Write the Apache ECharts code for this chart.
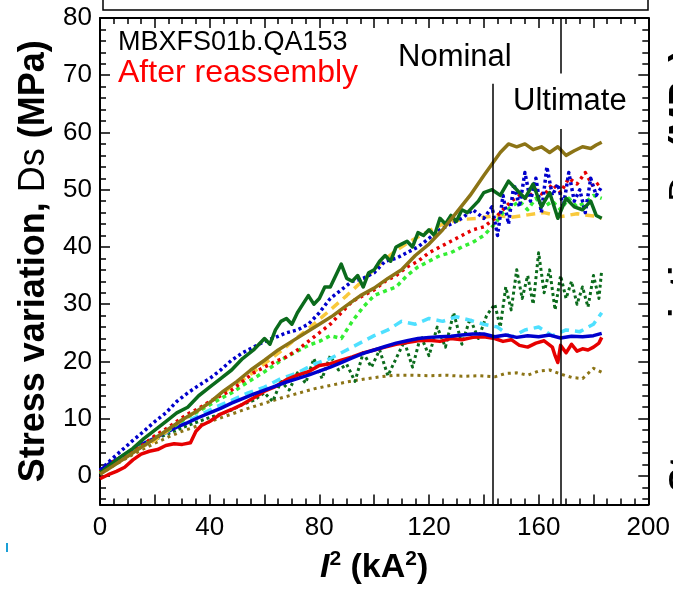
<!DOCTYPE html>
<html>
<head>
<meta charset="utf-8">
<script src="https://cdn.jsdelivr.net/npm/echarts@6/dist/echarts.min.js"></script>
<style>
  html, body { margin: 0; padding: 0; background: #fff; }
  #chart { width: 673px; height: 590px; }
</style>
</head>
<body>
<div id="chart"></div>
<script>
// tick positions
const xLabels = [0, 40, 80, 120, 160, 200];
const xMajor = [0, 20, 40, 60, 80, 100, 120, 140, 160, 180, 200];
const xMinor = [5, 10, 15, 25, 30, 35, 45, 50, 55, 65, 70, 75, 85, 90, 95, 105, 110, 115,
  125, 130, 135, 145, 150, 155, 165, 170, 175, 185, 190, 195];
const yLabels = [0, 10, 20, 30, 40, 50, 60, 70, 80];
const yMinor = [-4, -2, 2, 4, 6, 8, 12, 14, 16, 18, 22, 24, 26, 28, 32, 34, 36, 38, 42, 44, 46, 48,
  52, 54, 56, 58, 62, 64, 66, 68, 72, 74, 76, 78];

// reference currents (kA^2)
const nominalI2 = 143.4;
const ultimateI2 = 168;

// measured curves [I^2, stress]
const oliveSolid = [[0,0.3],[5,1.8],[10,3.4],[15,5],[20,6.5],[25,8.2],[30,9.8],[35,11.2],[40,12.8],[45,14.8],
  [50,16.5],[55,18.5],[60,20.2],[65,22],[70,23.5],[75,25],[80,26.5],[85,28],[90,29.8],[95,31.5],[100,32.8],
  [105,34.5],[110,36],[115,38.5],[120,40.5],[125,43],[130,46],[135,49],[140,52.5],[143,54.5],[146,56.5],
  [149,58],[152,57.5],[155,58],[158,57],[161,57.5],[164,56.5],[167,57.5],[170,56],[173,56.8],[176,57.5],
  [179,57.2],[181,57.8],[183,58.3]];
const greenSolid = [[0,0.5],[4,2],[8,3.5],[12,4.8],[16,6.5],[20,8],[24,9.5],[28,11],[32,12],[36,14],[40,15.5],
  [44,17],[48,18.5],[52,20.5],[56,22],[60,24],[62,23],[64,25.5],[66,27],[68,27.5],[70,26.5],[72,28.5],[74,30],
  [76,31.5],[78,30],[80,31],[82,33],[84,33],[86,35],[88,37],[90,34.5],[92,34],[94,35],[96,33],[98,35.5],
  [100,36],[102,37.5],[104,38.5],[106,37.5],[108,40],[110,40.5],[112,41],[114,40],[116,42.5],[118,42],
  [120,43],[122,42],[124,45],[126,44],[128,45.5],[130,44.5],[132,46.5],[134,46],[136,47],[138,48],
  [140,49.5],[143,50],[146,49],[149,51.5],[152,50],[155,48.5],[158,51],[161,47],[164,49.5],[167,45],
  [170,48.5],[173,47],[176,46.5],[179,48],[181,45.5],[183,45]];
const blueDotted = [[0,1],[4,2.8],[8,4.5],[12,6.2],[16,7.8],[20,9.5],[24,11],[28,13],[32,14.5],[36,15.8],
  [40,17],[44,18.5],[48,20.2],[52,21.5],[56,22.5],[60,23.5],[64,24.2],[68,25],[72,25.5],[76,26.5],
  [80,28.5],[84,31],[88,32.5],[92,34],[96,34.5],[100,35.5],[104,37.5],[108,38],[112,39],[116,40],
  [120,41.5],[124,43],[128,44],[132,45],[136,46.5],[140,45],[143,47],[145,42],[147,49],[149,44],
  [151,51],[153,47],[155,53],[157,48],[159,52],[161,46],[163,54],[165,49],[167,51],[169,47],[171,53],
  [173,48],[175,50],[177,46],[179,52],[181,49],[183,50.5]];
const redDotted = [[0,0.8],[4,2.3],[8,3.3],[12,4.3],[16,5.5],[20,7],[24,8.2],[28,9.5],[32,10.8],[36,11.8],
  [40,13],[44,14],[48,15],[52,16.5],[56,18],[60,19],[64,20],[68,20.8],[72,22],[76,23.5],[80,25],
  [84,26.5],[88,28.5],[92,30.5],[96,31.5],[100,32.5],[104,34],[108,35],[112,36.5],[116,37.5],[120,39],
  [124,40],[128,41],[132,42],[136,43],[140,43.5],[144,45],[147,46.5],[150,48],[153,49],[156,48.5],
  [159,50],[162,49],[165,51],[168,49.5],[171,52],[174,51],[177,53],[180,50.5],[183,51.5]];
const limeDotted = [[0,0.5],[4,1.8],[8,2.9],[12,4.2],[16,5.5],[20,6.8],[24,7.7],[28,9],[32,10.3],[36,11.3],
  [40,12.4],[44,13.5],[48,14.5],[52,15.8],[56,17],[60,18.2],[64,19.5],[68,20.8],[72,21.8],[76,22.8],
  [80,23.5],[84,24.5],[88,24],[92,27],[96,29.5],[100,31.5],[104,32.3],[108,33],[112,35],[116,36.5],
  [120,37.5],[124,38.5],[128,39],[132,40],[136,40.8],[140,42],[144,44],[147,46],[150,47],[153,48],
  [156,46.5],[159,48.5],[162,47],[165,48],[168,46.5],[171,48.5],[174,47],[177,47.8],[180,49],[183,48.5]];
const yellowDashed = [[0,0.5],[6,2.5],[12,4.4],[18,5.6],[24,7.6],[30,9.8],[36,11.5],[42,13.5],[48,15.6],
  [54,17.4],[60,19.6],[66,21.8],[72,24.2],[78,26.5],[84,29],[90,31.5],[96,34.2],[102,37],[108,39.4],
  [114,41.2],[120,42.8],[126,44.2],[132,44.8],[138,45],[144,45.5],[150,45.2],[156,45.6],[162,46],
  [168,45.3],[174,45.8],[180,45.4],[183,45]];
const cyanDashed = [[0,0.5],[6,2.5],[12,4.2],[18,5.8],[24,7.5],[30,9.2],[36,10.5],[42,12],[48,13.2],
  [54,14.5],[60,15.5],[66,17],[72,18],[78,19.5],[84,20.5],[90,22],[96,23.5],[100,24.5],[105,25.5],
  [110,27],[115,26.5],[120,27.5],[125,27],[130,27.8],[135,27.2],[140,26.5],[145,26],[150,24.2],
  [155,25.5],[160,26],[165,24.5],[170,25.5],[175,25.2],[180,26.5],[183,28.5]];
const greenDotted = [[0,0.5],[4,1.8],[8,3],[12,4.2],[16,5.3],[20,6.3],[24,7.2],[28,8],[32,8.8],[36,9.5],
  [40,10.2],[44,10.8],[48,11.5],[52,12.5],[56,13.2],[60,14.5],[63,13],[66,16.5],[69,15],[72,18],[75,16.2],
  [78,20.5],[81,17],[84,21],[87,18.5],[90,19.5],[93,16.5],[96,21.5],[99,19],[102,22],[105,17.5],
  [108,20.5],[111,23.5],[114,19],[117,24.5],[120,21],[123,26],[126,22.5],[129,28.5],[132,23],[135,27.5],
  [138,24],[141,28],[144,30],[146,26],[148,33],[150,29],[152,36],[154,31],[156,35],[158,30],[160,39],
  [162,32],[164,36],[166,29],[168,35],[170,31],[172,34],[174,30],[176,33],[178,29.5],[180,35],[182,31],[183,36]];
const redSolid = [[0,-0.5],[3,0.2],[6,0.8],[9,1.5],[12,2.8],[15,3.8],[18,4.3],[21,4.6],[24,5.3],[27,5.6],
  [30,5.5],[33,5.8],[35,7.8],[37,8.8],[40,9.5],[44,10.8],[48,11.6],[52,12.5],[56,13.6],[60,14.8],[64,15.6],
  [68,16.8],[72,17.6],[76,18.2],[80,19.3],[84,19.6],[88,20.2],[92,20.8],[96,21.5],[100,22],[104,22.5],
  [108,23],[112,23.3],[116,23.6],[120,23.7],[124,23.5],[128,24],[132,23.8],[136,24.2],[140,24.3],[144,24],
  [147,23.5],[150,23.8],[153,22.8],[156,22.5],[159,23.2],[162,23.6],[165,22.5],[166,21],[167,19.8],
  [168,22.8],[170,21.5],[172,23],[174,21.8],[176,22.2],[178,22],[180,22.5],[182,23.2],[183,24.2]];
const blueSolid = [[0,1],[4,2.3],[8,3.4],[12,4.6],[16,5.7],[20,6.6],[24,7.6],[28,8.5],[32,9.3],[36,10.2],
  [40,11],[44,11.8],[48,12.7],[52,13.5],[56,14.3],[60,15],[64,15.7],[68,16.4],[72,17],[76,17.6],[80,18.3],
  [84,19],[88,19.8],[92,20.6],[96,21.4],[100,22],[104,22.6],[108,23.2],[112,23.6],[116,24],[120,24.2],
  [124,24.3],[128,24.4],[132,24.6],[136,24.8],[140,24.8],[144,24.3],[148,24.6],[152,24.2],[156,24.5],
  [160,24.3],[164,24.6],[168,24.1],[172,24.4],[176,24.3],[180,24.5],[183,24.9]];
const oliveDotted = [[0,0.3],[5,1.8],[10,3.2],[15,4.5],[20,5.7],[25,6.8],[30,7.8],[36,8.8],[42,9.8],[48,10.8],
  [54,11.8],[60,12.7],[66,13.6],[72,14.4],[78,15.2],[84,15.8],[90,16.4],[96,16.9],[102,17.3],[108,17.6],
  [114,17.6],[120,17.5],[126,17.6],[132,17.4],[138,17.5],[144,17.3],[148,17.9],[152,18],[156,17.6],
  [160,18.3],[164,18.5],[168,17.8],[172,17.2],[176,17],[180,18.8],[183,18.1]];

const FONT = "'Liberation Sans', Arial, sans-serif";
const OLIVE = "#8c7416";
const DKGREEN = "#0b6b1c";
const BLUE = "#0000cc";
const RED = "#e60000";

function xAxisDef(pos, ticks, len, line, labels, extra) {
  return Object.assign({
    type: "value", position: pos, min: 0, max: 200,
    axisLine: { show: line, onZero: false, lineStyle: { color: "#000", width: 2 } },
    axisTick: { show: true, inside: true, length: len, customValues: ticks, lineStyle: { color: "#000", width: 1.5 } },
    axisLabel: labels ? { customValues: labels, color: "#000", fontFamily: FONT, fontSize: 26, margin: 10 } : { show: false },
    splitLine: { show: false }
  }, extra || {});
}
function yAxisDef(pos, ticks, len, line, labels, extra) {
  return Object.assign({
    type: "value", position: pos, min: -5, max: 80,
    axisLine: { show: line, onZero: false, lineStyle: { color: "#000", width: 2 } },
    axisTick: { show: true, inside: true, length: len, customValues: ticks, lineStyle: { color: "#000", width: 1.5 } },
    axisLabel: labels ? { customValues: labels, color: "#000", fontFamily: FONT, fontSize: 26, margin: 8 } : { show: false },
    splitLine: { show: false }
  }, extra || {});
}

function line(data, color, type, width) {
  return {
    type: "line", data: data, showSymbol: false, symbol: "none", silent: true, animation: false,
    lineStyle: { color: color, width: width || 3, type: type, cap: "butt", join: "round" }
  };
}

const chart = echarts.init(document.getElementById("chart"), null, { renderer: "canvas" });

const series = [
  line(oliveDotted, OLIVE, [3, 4], 3),
  line(greenDotted, DKGREEN, [3, 3], 3),
  line(cyanDashed, "#4fe0ff", [9, 6], 3.5),
  line(redSolid, RED, "solid", 3.5),
  line(blueSolid, BLUE, "solid", 3.5),
  line(yellowDashed, "#f9c93c", [9, 6], 3.5),
  line(limeDotted, "#33ee33", [4, 4], 3.5),
  line(redDotted, RED, [3, 4], 3.5),
  line(blueDotted, BLUE, [3, 3], 3.5),
  line(greenSolid, DKGREEN, "solid", 3.5),
  line(oliveSolid, OLIVE, "solid", 3.5)
];

series[series.length - 1].markLine = {
  silent: true, symbol: ["none", "none"], animation: false,
  label: { show: false },
  lineStyle: { color: "#000", width: 1.5, type: "solid" },
  data: [
    [{ coord: [nominalI2, -5] }, { coord: [nominalI2, 68.5] }],
    [{ coord: [ultimateI2, 80] }, { coord: [ultimateI2, 70.3] }],
    [{ coord: [ultimateI2, 60.6] }, { coord: [ultimateI2, -5] }]
  ]
};

chart.setOption({
  animation: false,
  backgroundColor: "#fff",
  grid: { left: 100, right: 19, top: 18, bottom: 84 },
  xAxis: [
    xAxisDef("bottom", xMajor, 10, true, xLabels, {
      name: "{i|I}{s|2}{b| (kA}{s|2}{b|)}",
      nameLocation: "middle", nameGap: 44,
      nameTextStyle: {
        rich: {
          i: { fontFamily: FONT, fontSize: 34, fontWeight: "bold", fontStyle: "italic", color: "#000" },
          b: { fontFamily: FONT, fontSize: 34, fontWeight: "bold", color: "#000" },
          s: { fontFamily: FONT, fontSize: 21, fontWeight: "bold", color: "#000", padding: [0, 0, 18, 0] }
        }
      }
    }),
    xAxisDef("bottom", xMinor, 6, false, null),
    xAxisDef("top", xMajor, 10, true, null),
    xAxisDef("top", xMinor, 6, false, null)
  ],
  yAxis: [
    yAxisDef("left", yLabels, 10, true, yLabels, {
      name: "{b|Stress variation, }{n|Ds}{b| (MPa)}",
      nameLocation: "middle", nameGap: 48, nameRotate: 90,
      nameTextStyle: {
        rich: {
          b: { fontFamily: FONT, fontSize: 36, fontWeight: "bold", color: "#000" },
          n: { fontFamily: FONT, fontSize: 36, fontWeight: "normal", color: "#000" }
        }
      }
    }),
    yAxisDef("left", yMinor, 6, false, null),
    yAxisDef("right", yLabels, 10, true, null),
    yAxisDef("right", yMinor, 6, false, null)
  ],
  series: series,
  graphic: [
    { type: "rect", shape: { x: 103, y: -12, width: 545, height: 22 },
      style: { fill: "none", stroke: "#000", lineWidth: 1.5 }, silent: true },
    { type: "text", left: 118, top: 29,
      style: { text: "MBXFS01b.QA153", fill: "#000", font: "27px " + FONT }, silent: true },
    { type: "text", left: 118, top: 57,
      style: { text: "After reassembly", fill: "#ff0000", font: "32px " + FONT }, silent: true },
    { type: "text", left: 398, top: 42,
      style: { text: "Nominal", fill: "#000", font: "31px " + FONT }, silent: true },
    { type: "text", left: 513, top: 86,
      style: { text: "Ultimate", fill: "#000", font: "31px " + FONT }, silent: true },
    { type: "text", x: 667, y: 492, rotation: Math.PI / 2,
      style: {
        text: "{b|Stress variation, }{n|Ds}{b| (MPa)}",
        rich: {
          b: { fontFamily: FONT, fontSize: 36, fontWeight: "bold", fill: "#000" },
          n: { fontFamily: FONT, fontSize: 36, fill: "#000" }
        }
      }, silent: true },
    { type: "rect", shape: { x: 6, y: 543, width: 2, height: 9 },
      style: { fill: "#1a9fd6" }, silent: true }
  ]
});
</script>
</body>
</html>
